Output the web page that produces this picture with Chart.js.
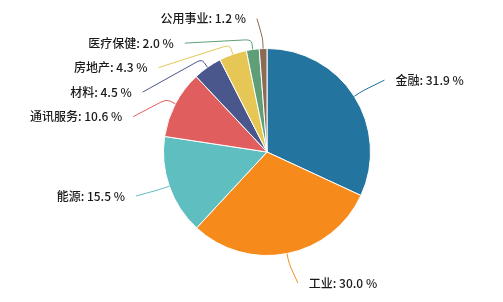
<!DOCTYPE html>
<html lang="zh">
<head>
    <meta charset="UTF-8">
    <title>行业分布</title>
    <script src="https://cdn.jsdelivr.net/npm/chart.js"></script>
    <style>
        body { margin: 0; background: #ffffff; }
        #wrap { width: 503px; height: 302px; }
    </style>
</head>
<body>
    <div id="wrap">
        <canvas id="pieChart" width="503" height="302"></canvas>
    </div>
    <script>
        // data
        const sectors = ['金融', '工业', '能源', '通讯服务', '材料', '房地产', '医疗保健', '公用事业'];
        const weights = [31.9, 30.0, 15.5, 10.6, 4.5, 4.3, 2.0, 1.2];
        const sliceColors = ['#23749f', '#f68a1b', '#5fbec0', '#e05e5e', '#4a578c', '#e6c655', '#5e9f78', '#8c6b55'];

        // outside labels with leader lines, roughly like echarts
        const outsideLabels = {
            id: 'outsideLabels',
            afterDatasetsDraw(chart) {
                const ctx = chart.ctx;
                const meta = chart.getDatasetMeta(0);
                const len1 = 30, stub = 10, lineEnd = 5, textOff = 16, lineH = 24.5;
                const items = [];
                meta.data.forEach((arc, i) => {
                    const mid = (arc.startAngle + arc.endAngle) / 2;
                    const r = arc.outerRadius;
                    const R = r + len1;
                    items.push({
                        i: i,
                        cx: arc.x, cy: arc.y, R: R,
                        right: Math.cos(mid) >= 0,
                        p0: { x: arc.x + r * Math.cos(mid), y: arc.y + r * Math.sin(mid) },
                        p1: { x: arc.x + (r + stub) * Math.cos(mid), y: arc.y + (r + stub) * Math.sin(mid) },
                        y: arc.y + R * Math.sin(mid)
                    });
                });

                // push overlapping labels down, per side
                [true, false].forEach(side => {
                    const list = items.filter(it => it.right === side).sort((a, b) => a.y - b.y);
                    for (let k = 1; k < list.length; k++) {
                        if (list[k].y < list[k - 1].y + lineH) list[k].y = list[k - 1].y + lineH;
                    }
                });

                ctx.save();
                ctx.font = '500 12px "Noto Sans CJK SC", "Noto Sans", sans-serif';
                ctx.textBaseline = 'middle';
                items.forEach(it => {
                    const dy = Math.abs(it.y - it.cy);
                    const dx = dy < it.R ? Math.sqrt(it.R * it.R - dy * dy) : 0;
                    const dir = it.right ? 1 : -1;
                    const ex = it.cx + dir * dx;
                    const p2 = { x: ex + dir * lineEnd, y: it.y };
                    const p0 = it.p0, p1 = it.p1;

                    // slightly rounded corner at p1
                    const a = { x: p0.x + (p1.x - p0.x) * 0.6, y: p0.y + (p1.y - p0.y) * 0.6 };
                    const d = Math.hypot(p2.x - p1.x, p2.y - p1.y) || 1;
                    const t = Math.min(6, d * 0.4) / d;
                    const b = { x: p1.x + (p2.x - p1.x) * t, y: p1.y + (p2.y - p1.y) * t };

                    ctx.strokeStyle = sliceColors[it.i];
                    ctx.lineWidth = 1;
                    ctx.beginPath();
                    ctx.moveTo(p0.x, p0.y);
                    ctx.lineTo(a.x, a.y);
                    ctx.quadraticCurveTo(p1.x, p1.y, b.x, b.y);
                    ctx.lineTo(p2.x, p2.y);
                    ctx.stroke();

                    ctx.fillStyle = '#1a1a1a';
                    ctx.textAlign = it.right ? 'left' : 'right';
                    const text = sectors[it.i] + ': ' + weights[it.i].toFixed(1) + ' %';
                    ctx.fillText(text, ex + dir * textOff, it.y);
                });
                ctx.restore();
            }
        };

        new Chart(document.getElementById('pieChart').getContext('2d'), {
            type: 'pie',
            data: {
                labels: sectors,
                datasets: [{
                    data: weights,
                    backgroundColor: sliceColors,
                    borderColor: '#ffffff',
                    borderWidth: 1
                }]
            },
            options: {
                responsive: false,
                animation: false,
                layout: {
                    padding: { top: 48, bottom: 46, left: 163, right: 132 }
                },
                plugins: {
                    legend: { display: false },
                    tooltip: { enabled: false }
                }
            },
            plugins: [outsideLabels]
        });
    </script>
</body>
</html>
